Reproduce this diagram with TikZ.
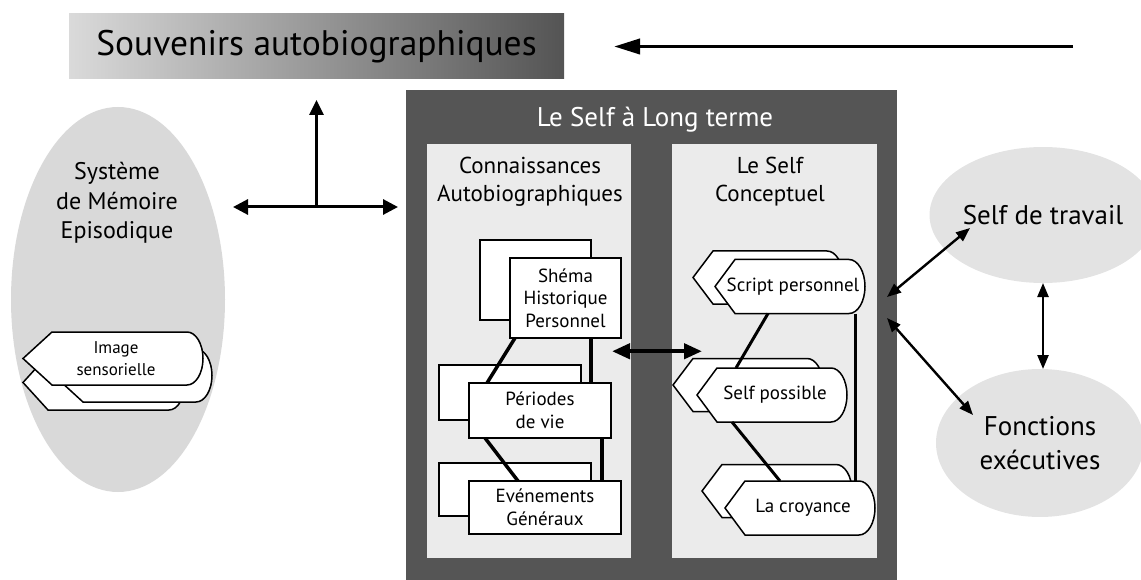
\documentclass[tikz,border=0pt]{standalone}
\usepackage{fontspec}
\setmainfont{PT Sans}
\usetikzlibrary{arrows.meta,shapes.geometric}

\definecolor{framegray}{HTML}{555555}
\definecolor{panelgray}{HTML}{EBEBEB}
\definecolor{blobgray}{HTML}{D9D9D9}
\definecolor{softgray}{HTML}{E3E3E3}
\definecolor{bannerleft}{HTML}{DADADA}
\definecolor{bannerright}{HTML}{545454}

\tikzset{
  box/.style={draw=black, line width=1.8pt, fill=white, inner sep=0pt, outer sep=0pt},
  boxtext/.style={align=center, font=\fontsize{19}{22.5}\selectfont},
  dispnode/.style={inner sep=0pt, outer sep=0pt},
  displine/.style={draw=black, line width=1.5pt, fill=white},
  disptext/.style={align=center, font=\fontsize{19}{22.5}\selectfont},
  panel/.style={fill=panelgray, inner sep=0pt, outer sep=0pt},
  blob/.style={ellipse, fill=blobgray, inner sep=0pt, outer sep=0pt},
  softblob/.style={ellipse, fill=softgray, inner sep=0pt, outer sep=0pt, align=center,
    font=\fontsize{27}{34}\selectfont},
  linkthick/.style={line width=3.5pt},
  linkthin/.style={line width=3pt},
  bigarrow/.style={line width=3.8pt, -{Triangle[length=26pt, width=15pt]}},
  tarrow/.style={line width=3pt, {Triangle[length=15pt, width=15pt]}-{Triangle[length=15pt, width=15pt]}},
  midarrow/.style={line width=4.2pt, {Triangle[length=18pt, width=15pt]}-{Triangle[length=18pt, width=15pt]}},
  thinarrow/.style={line width=2.4pt, {Triangle[length=14pt, width=11pt]}-{Triangle[length=14pt, width=11pt]}}
}

% Shape with a pointed left end and a rounded right end
\newcommand{\dispshape}[6][]{%
  \node[dispnode, minimum width=#4, minimum height=#5] (#2) at (#3) {};
  \draw[displine] (#2.west) -- ([xshift=#6]#2.north west)
    -- ([xshift=-16pt]#2.north east)
    arc[start angle=90, end angle=-90, x radius=16pt, y radius=#5/2]
    -- ([xshift=#6]#2.south west) -- cycle;
  \node[disptext, #1] (#2txt) at ([xshift=3pt]#2.center) {\disptxt};
}
\newcommand{\disptxt}{}

\begin{document}
\begin{tikzpicture}[x=1pt, y=-1pt]

    \useasboundingbox (0,0) rectangle (1141,580);

    % Draw banner
    \node[inner sep=0pt, outer sep=0pt, left color=bannerleft, right color=bannerright,
      minimum width=495pt, minimum height=65pt,
      font=\fontsize{35.5}{42}\selectfont] (souvenirs) at (316.5,46.5)
      {Souvenirs autobiographiques};

    % Draw episodic memory
    \node[blob, minimum width=214pt, minimum height=385pt] (episod) at (118,299.5) {};
    \node[align=center, font=\fontsize{24}{29.5}\selectfont] (episodtxt) at (117,203)
      {Système\\de Mémoire\\Episodique};
    \renewcommand{\disptxt}{}
    \dispshape{imageback}{104,382.5}{162pt}{55pt}{25pt}
    \dispshape{imagemid}{133,375.5}{158pt}{53pt}{29pt}
    \renewcommand{\disptxt}{Image\\sensorielle}
    \dispshape[font=\fontsize{17}{22.5}\selectfont]{image}{113,358.5}{180pt}{53pt}{29pt}

    % Draw long term self
    \node[fill=framegray, inner sep=0pt, outer sep=0pt, minimum width=491pt,
      minimum height=495pt] (self) at (651.5,337.5) {};
    \node[text=white, anchor=base, font=\fontsize{27}{31}\selectfont] (selftitle)
      at (655,127) {Le Self à Long terme};
    \node[panel, minimum width=204pt, minimum height=413.5pt] (conn) at (529,351.25) {};
    \node[panel, minimum width=205pt, minimum height=413.5pt] (concept) at (774.5,351.25) {};
    \node[align=center, font=\fontsize{23}{28}\selectfont] (conntxt) at (530,182)
      {Connaissances\\Autobiographiques};
    \node[align=center, font=\fontsize{23}{28}\selectfont] (concepttxt) at (770,182)
      {Le Self\\Conceptuel};

    % Draw autobiographical knowledge
    \foreach \nm/\cx/\cy/\w/\h/\txt in {
      shema/565.5/298/111/80/{Shéma\\Historique\\Personnel},
      periodes/540/410.5/142/55/{Périodes\\de vie},
      evenements/545/507.5/152/53/{Evénements\\Généraux}}{
      \node[box, minimum width=\w, minimum height=\h] (\nm back) at (\cx-30,\cy-18) {};
      \node[box, boxtext, minimum width=\w, minimum height=\h] (\nm) at (\cx,\cy) {\txt};
    }
    \draw[linkthick] ([xshift=5pt]shema.south west) -- ([xshift=18pt]periodes.north west);
    \draw[linkthick] ([xshift=-30pt]shema.south east) -- ([xshift=-20pt]periodes.north east);
    \draw[linkthick] ([xshift=16pt]periodes.south west) -- ([xshift=49pt]evenements.north west);
    \draw[linkthick] ([xshift=-9pt]periodes.south east) -- ([xshift=-19pt]evenements.north east);

    % Draw conceptual self
    \foreach \nm/\cx/\cy/\dx/\dy/\txt in {
      script/790/286.5/22/9/Script personnel,
      possible/772/395/24/10/Self possible,
      croyance/800/508/23/17/La croyance}{
      \renewcommand{\disptxt}{}
      \dispshape{\nm back}{\cx-\dx,\cy-\dy}{150pt}{53pt}{20pt}
      \renewcommand{\disptxt}{\txt}
      \dispshape{\nm}{\cx,\cy}{150pt}{54pt}{20pt}
    }
    \draw[linkthin] ([xshift=53pt]script.south west) -- ([xshift=39pt]possible.north west);
    \draw[linkthin] ([xshift=35pt]possible.south west) -- ([xshift=55pt]croyance.north west);
    \draw[linkthin] ([xshift=-10pt]script.south east) -- ([xshift=-20pt]croyance.north east);
    \draw[midarrow] ([xshift=-19pt]conn.east) -- ([xshift=30pt]concept.west);

    % Draw working self and executive functions
    \node[softblob, minimum width=196pt, minimum height=136pt] (travail) at (1043,215)
      {Self de travail};
    \node[softblob, minimum width=208pt, minimum height=148pt] (fonctions) at (1040,443)
      {Fonctions\\exécutives};
    \draw[thinarrow] ([shift={(-73pt,-13pt)}]travail.center) -- ([shift={(-10pt,40.5pt)}]self.east);
    \draw[thinarrow] ([shift={(-67pt,28pt)}]fonctions.center) -- ([shift={(-10pt,19.5pt)}]self.east);
    \draw[thinarrow] (travail.south) -- (travail.south |- fonctions.north);

    % Draw arrows to the memories
    \coordinate (topstart) at (1073,46.5);
    \coordinate (tleft) at (233,207);
    \coordinate (tright) at (398,207);
    \coordinate (tmid) at (316.5,207);
    \draw[bigarrow] (topstart) -- ([xshift=50pt]souvenirs.east);
    \draw[tarrow] (tleft) -- (tright);
    \draw[line width=3pt, -{Triangle[length=15pt, width=14pt]}] (tmid) -- ([yshift=-21pt]souvenirs.south);

\end{tikzpicture}
\end{document}
